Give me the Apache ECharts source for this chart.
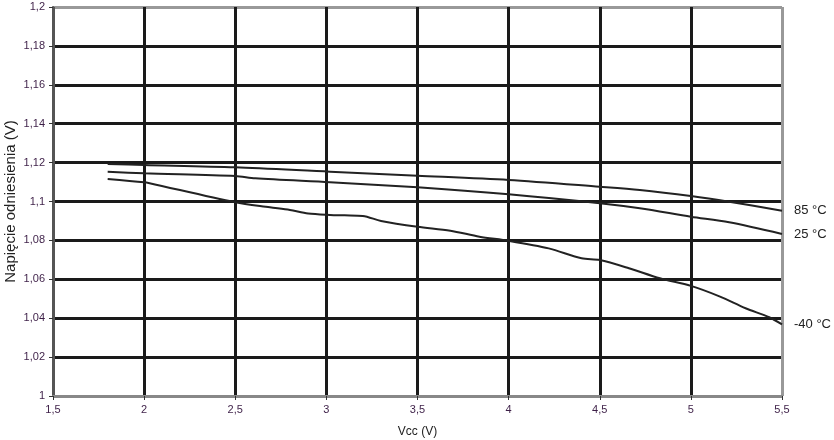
<!DOCTYPE html>
<html>
<head>
<meta charset="utf-8">
<script src="https://cdn.jsdelivr.net/npm/echarts@6/dist/echarts.min.js"></script>
<style>html,body{margin:0;padding:0;background:#fff}#c{width:834px;height:440px}</style>
</head>
<body>
<div id="c"></div>
<script>
const seriesNames = ['85 °C', '25 °C', '-40 °C'];
const x85 = [1.8, 2.0, 2.5, 3.02, 3.5, 4.0, 4.5, 4.72, 5.0, 5.21, 5.5];
const y85 = [1.1193, 1.1188, 1.1176, 1.1153, 1.1133, 1.1111, 1.1076, 1.1059, 1.1028, 1.0999, 1.0953];
const x25 = [1.8, 2.0, 2.5, 2.61, 3.02, 3.5, 4.0, 4.5, 4.72, 5.0, 5.21, 5.5];
const y25 = [1.1153, 1.1145, 1.1131, 1.1119, 1.1099, 1.1073, 1.1037, 1.0991, 1.0965, 1.0922, 1.0893, 1.0833];
const xm40 = [1.8, 2.0, 2.03, 2.5, 2.69, 2.8, 2.9, 3.02, 3.1, 3.2, 3.3, 3.5, 3.68, 3.84, 4.0, 4.22, 4.4, 4.5, 4.66, 4.83, 5.0, 5.16, 5.3, 5.43, 5.5];
const ym40 = [1.1116, 1.1099, 1.1094, 1.0996, 1.0970, 1.0956, 1.0938, 1.0931, 1.0929, 1.0926, 1.0900, 1.0870, 1.0850, 1.0819, 1.0798, 1.0759, 1.0708, 1.0699, 1.0657, 1.0605, 1.0566, 1.0511, 1.0451, 1.0405, 1.0368];
const xTicks = [1.5, 2, 2.5, 3, 3.5, 4, 4.5, 5, 5.5];
const yTicks = [1, 1.02, 1.04, 1.06, 1.08, 1.1, 1.12, 1.14, 1.16, 1.18, 1.2];

const pairs = (xs, ys) => xs.map((x, i) => [x, ys[i]]);
const comma = v => String(+v.toFixed(2)).replace('.', ',');
const labelColor = '#3d1f47';

const yGridColors = yTicks.map((t, i) => i === 0 ? '#888' : (i === yTicks.length - 1 ? '#999' : '#1a1a1a'));
const xGridColors = xTicks.map((t, i) => i === 0 ? '#555' : (i === xTicks.length - 1 ? '#999' : '#1a1a1a'));

const chart = echarts.init(document.getElementById('c'), null, {renderer: 'canvas'});
const mk = (name, data) => ({
  name, type: 'line', data, showSymbol: false, symbol: 'none', smooth: 0.3,
  lineStyle: {color: '#222', width: 2},
  endLabel: {show: true, formatter: name, color: '#222', fontSize: 13, fontFamily: 'Liberation Sans, Arial', distance: 12},
  z: 5
});
chart.setOption({
  animation: false,
  backgroundColor: '#fff',
  grid: {left: 53, right: 52, top: 7, bottom: 44, containLabel: false, outerBoundsMode: 'none'},
  xAxis: {
    type: 'value', min: 1.5, max: 5.5, interval: 0.5,
    name: 'Vcc (V)', nameLocation: 'middle', nameGap: 30, nameMoveOverlap: false,
    nameTextStyle: {color: '#222', fontSize: 12, fontFamily: 'Liberation Sans, Arial'},
    axisLine: {show: true, lineStyle: {color: '#888', width: 2}},
    axisTick: {show: true, length: 4, lineStyle: {color: '#333'}},
    axisLabel: {formatter: comma, color: labelColor, fontSize: 11, fontFamily: 'Liberation Sans, Arial', margin: 8},
    splitLine: {show: true, lineStyle: {color: xGridColors, width: 3}}
  },
  yAxis: {
    type: 'value', min: 1, max: 1.2, interval: 0.02,
    name: 'Napięcie odniesienia (V)', nameLocation: 'middle', nameGap: 35, nameRotate: 90, nameMoveOverlap: false,
    nameTextStyle: {color: '#222', fontSize: 15, fontFamily: 'Liberation Sans, Arial'},
    axisLine: {show: true, lineStyle: {color: '#555', width: 2}},
    axisTick: {show: true, length: 4, lineStyle: {color: '#333'}},
    axisLabel: {formatter: comma, color: labelColor, fontSize: 11, fontFamily: 'Liberation Sans, Arial', margin: 8},
    splitLine: {show: true, lineStyle: {color: yGridColors, width: 3}}
  },
  series: [
    mk(seriesNames[0], pairs(x85, y85)),
    mk(seriesNames[1], pairs(x25, y25)),
    mk(seriesNames[2], pairs(xm40, ym40))
  ]
});
</script>
</body>
</html>
